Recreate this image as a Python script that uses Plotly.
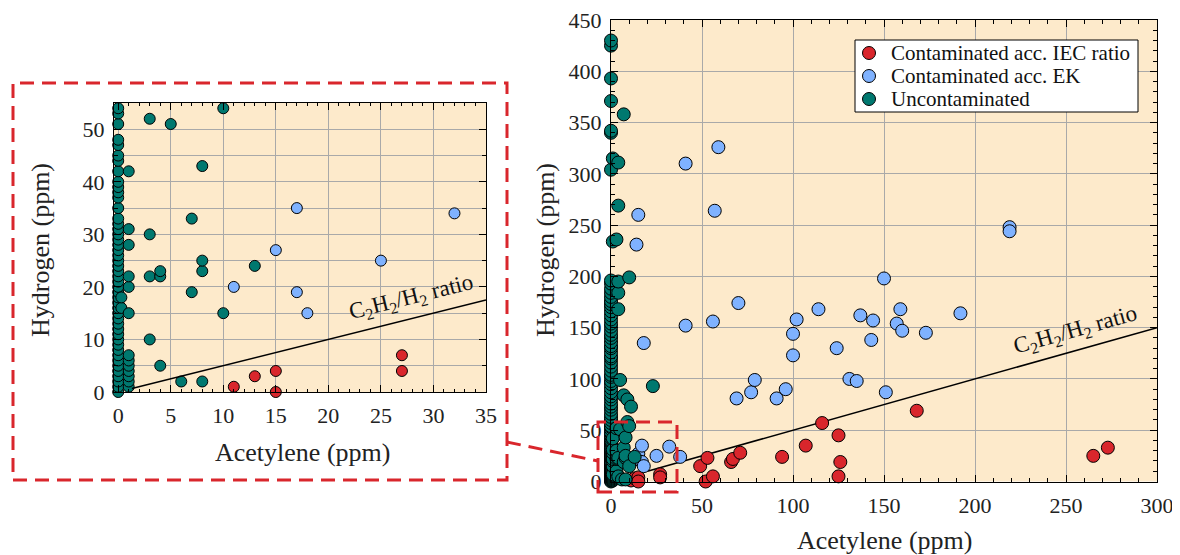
import plotly.graph_objects as go

# ---------------- data ----------------
iec_x = [11, 13, 15, 15, 27, 27, 49, 52, 53, 56, 66, 67, 71, 94, 107, 116, 125, 126, 125, 168, 265, 273]
iec_y = [1, 3, 4, 0, 7, 4, 15, 0, 23, 5, 19, 22, 28, 24, 35, 57, 45, 19, 5, 69, 25, 33]

ek_x = [11, 15, 17, 17, 18, 25, 32, 38, 14, 15, 18, 41, 41, 56, 57, 59, 69, 70, 77, 79, 91, 96,
        100, 100, 102, 114, 124, 131, 135, 137, 143, 144, 150, 151, 157, 159, 160, 173, 192, 219, 219]
ek_y = [20, 27, 35, 19, 15, 25, 34, 24, 231, 260, 135, 152, 310, 156, 264, 326, 81, 174, 87, 99, 81, 90,
        144, 123, 158, 168, 130, 100, 98, 162, 138, 157, 198, 87, 154, 168, 147, 145, 164, 248, 244]

un_x = [0, 0, 0, 0, 0, 0, 0, 0, 0, 0, 0, 0, 0, 0, 0, 0, 0, 0, 0, 0,
        0, 0, 0, 0, 0, 0, 0, 0, 0, 0, 0, 0, 0, 0, 0, 0, 0, 0, 0, 0,
        0, 0, 0, 0, 0, 0, 0,
        0, 0, 0, 0, 0, 0, 0, 0, 0, 0, 0, 0, 0, 0, 0, 0, 0, 0, 0, 0,
        0, 0, 0, 0, 0, 0, 0, 0, 0, 0, 0, 0, 0, 0, 0, 0, 0, 0, 0, 0,
        0, 0, 0, 0, 0, 0, 0,
        0.3, 0.3,
        1, 1, 1, 1, 1, 1, 1, 1, 1, 1, 1, 1, 1, 1, 1,
        3, 3, 3, 3, 3,
        4, 4, 4, 4, 4, 4, 4, 4,
        5, 5, 6, 7, 7, 7, 7, 8, 8, 8, 8, 9, 9, 10, 10, 10, 11, 13, 23]
un_y = [0, 1, 2, 3, 4, 5, 6, 7, 8, 9, 10, 11, 12, 13, 14, 15, 16, 17, 18, 19,
        20, 21, 22, 23, 24, 25, 26, 27, 28, 29, 30, 31, 32, 33, 35, 37, 38, 39, 40, 42,
        44, 45, 47, 48, 51, 53, 54,
        57, 60, 63, 66, 70, 73, 76, 80, 83, 87, 91, 95, 98, 102, 104, 108, 112, 116, 120, 122,
        126, 130, 132, 136, 140, 143, 147, 151, 154, 158, 162, 166, 170, 173, 176, 180, 184, 188, 193, 196,
        304, 340, 342, 371, 393, 425, 430,
        16, 18,
        1, 2, 3, 4, 5, 6, 7, 15, 20, 22, 28, 31, 42, 234, 315,
        10, 22, 30, 52, 236,
        5, 22, 23, 168, 184, 195, 269, 311,
        51, 99, 2, 19, 33, 84, 358, 2, 23, 25, 43, 58, 80, 15, 54, 199, 73, 24, 93]

ratio = 0.5                      # C2H2/H2 boundary: H2 = 0.5 * C2H2
main_line_x = [20, 300]
inset_line_x = [1.3, 35]

names = ["Contaminated acc. IEC ratio", "Contaminated acc. EK", "Uncontaminated"]
colors = ["#D9262C", "#7FB2FF", "#00786F"]

FONT = "Liberation Serif, Times New Roman, serif"
OFF = 8                       # page body margin
W, H = 1180 - OFF, 555 - OFF

def px_x(p):
    return (p - OFF) / W

def px_y(p):
    return 1 - (p - OFF) / H

fig = go.Figure()

series = [(iec_x, iec_y), (ek_x, ek_y), (un_x, un_y)]
# inset traces
for (xs, ys), c, n in zip(series, colors, names):
    fig.add_trace(go.Scatter(x=xs, y=ys, mode="markers", xaxis="x2", yaxis="y2", name=n,
                             showlegend=False, cliponaxis=False,
                             marker=dict(size=11, color=c, line=dict(color="black", width=1))))
fig.add_trace(go.Scatter(x=inset_line_x, y=[v * ratio for v in inset_line_x], mode="lines",
                         xaxis="x2", yaxis="y2", showlegend=False,
                         line=dict(color="black", width=1.5)))

# main traces (line under markers)
fig.add_trace(go.Scatter(x=main_line_x, y=[v * ratio for v in main_line_x], mode="lines",
                         showlegend=False, line=dict(color="black", width=1.5)))
for (xs, ys), c, n in zip(series, colors, names):
    fig.add_trace(go.Scatter(x=xs, y=ys, mode="markers", name=n, cliponaxis=False,
                             showlegend=False,
                             marker=dict(size=13, color=c, line=dict(color="black", width=1))))

grid = "#A9A9A9"
tickfont = dict(family=FONT, size=22, color="#222")
titlefont = dict(family=FONT, size=26, color="#222")

common = dict(showline=True, linecolor="black", linewidth=1, mirror="allticks",
              ticks="inside", tickcolor="black", ticklen=7, showgrid=True, gridcolor=grid,
              gridwidth=1, zeroline=False, tickfont=tickfont, ticklabelstandoff=4,
              ticklabeloverflow="allow")

fig.update_layout(
    width=W, height=H,
    margin=dict(l=0, r=0, t=0, b=0, autoexpand=False),
    paper_bgcolor="white", plot_bgcolor="#FDEACB",
    font=dict(family=FONT, color="#222"),
    showlegend=False,
    xaxis=dict(domain=[px_x(611), px_x(1157)], range=[0, 300], dtick=50, anchor="y",
               minor=dict(dtick=10, ticks="inside", ticklen=4, tickcolor="black"), **common),
    yaxis=dict(domain=[px_y(481.5), px_y(20)], range=[0, 450], dtick=50, anchor="x",
               minor=dict(dtick=10, ticks="inside", ticklen=4, tickcolor="black"), **common),
    xaxis2=dict(domain=[px_x(114), px_x(486)], range=[-0.4, 35], dtick=5, anchor="y2",
                minor=dict(dtick=1, ticks="inside", ticklen=3, tickcolor="black"), **common),
    yaxis2=dict(domain=[px_y(392), px_y(103)], range=[0, 55], dtick=10, anchor="x2",
                minor=dict(dtick=5, ticks="inside", ticklen=4, tickcolor="black",
                           showgrid=True, gridcolor=grid, gridwidth=1), **common),
)

# axis titles
titles = [("Acetylene (ppm)", 884, 540, 0), ("Hydrogen (ppm)", 545, 250, -90),
          ("Acetylene (ppm)", 302, 452, 0), ("Hydrogen (ppm)", 40, 250, -90)]
for txt, tx, ty, ang in titles:
    fig.add_annotation(x=px_x(tx), y=px_y(ty), xref="paper", yref="paper", text=txt,
                       showarrow=False, textangle=ang, xanchor="center", yanchor="middle",
                       font=titlefont)

label = "C<sub>2</sub>H<sub>2</sub>/H<sub>2</sub> ratio"
fig.add_annotation(x=255, y=147, xref="x", yref="y", text=label, showarrow=False,
                   textangle=-15.7, font=dict(family=FONT, size=23, color="#111"))
fig.add_annotation(x=27.9, y=17.8, xref="x2", yref="y2", text=label, showarrow=False,
                   textangle=-14.1, font=dict(family=FONT, size=23, color="#111"))

# legend box (drawn manually for compact row spacing)
fig.add_shape(type="rect", xref="paper", yref="paper",
              x0=px_x(855), x1=px_x(1138), y0=px_y(112), y1=px_y(40),
              fillcolor="white", line=dict(color="black", width=1), layer="above")
for i, (n, c) in enumerate(zip(names, colors)):
    cy = 53 + 23 * i
    fig.add_shape(type="circle", xref="paper", yref="paper",
                  x0=px_x(862.5), x1=px_x(875.5), y0=px_y(cy + 6.5), y1=px_y(cy - 6.5),
                  fillcolor=c, line=dict(color="black", width=1), layer="above")
    fig.add_annotation(x=px_x(889), y=px_y(cy), xref="paper", yref="paper", text=n,
                       showarrow=False, xanchor="left", yanchor="middle",
                       font=dict(family=FONT, size=21, color="#111"))

red = "#D9262C"
dash = "14px,8px"
fig.add_shape(type="rect", xref="paper", yref="paper",
              x0=px_x(13), x1=px_x(507), y0=px_y(480), y1=px_y(83),
              line=dict(color=red, width=3, dash=dash), layer="above")
fig.add_shape(type="rect", xref="paper", yref="paper",
              x0=px_x(598), x1=px_x(677), y0=px_y(492), y1=px_y(422),
              line=dict(color=red, width=3, dash=dash), layer="above")
fig.add_shape(type="line", xref="paper", yref="paper",
              x0=px_x(507), x1=px_x(598), y0=px_y(442), y1=px_y(461),
              line=dict(color=red, width=3, dash=dash), layer="above")

fig.write_html("out.html")
